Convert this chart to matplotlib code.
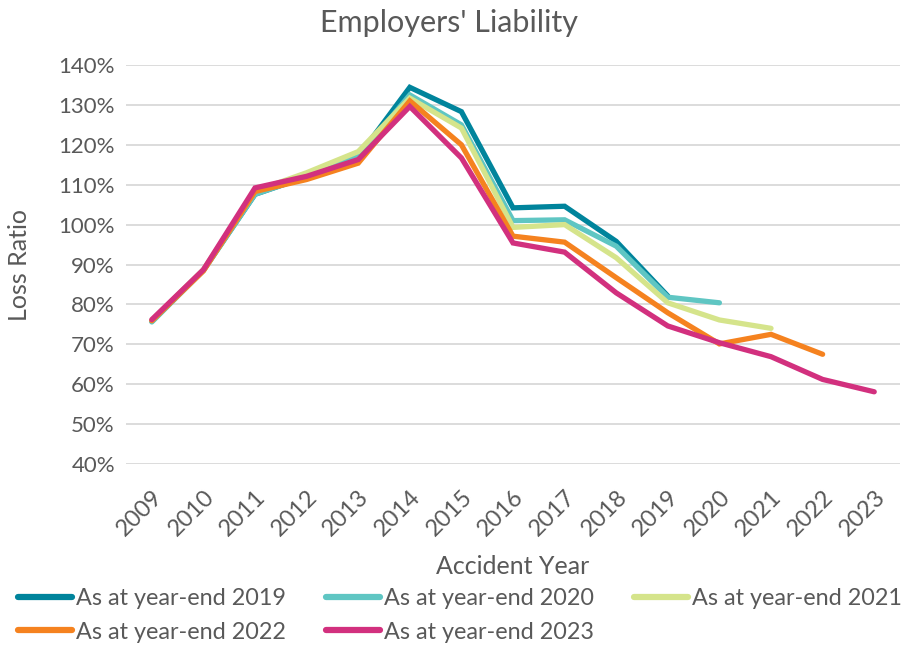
import numpy as np
import matplotlib.pyplot as plt

plt.rcParams["font.family"] = ["Lato", "DejaVu Sans"]

years = [str(y) for y in range(2009, 2024)]

ye2019 = [75.8, 88.6, 107.6, 112.0, 117.0, 134.4, 128.3, 104.2, 104.6, 95.8, 82.1]
ye2020 = [75.6, 88.5, 107.6, 112.0, 117.0, 132.5, 125.0, 101.0, 101.2, 94.6, 81.8, 80.4]
ye2021 = [76.0, 88.7, 108.4, 113.0, 118.3, 131.7, 124.2, 99.3, 100.0, 91.7, 80.4, 76.1, 74.0]
ye2022 = [75.9, 88.4, 108.3, 111.3, 115.4, 131.0, 120.0, 97.1, 95.6, 86.7, 77.9, 70.1, 72.5, 67.5]
ye2023 = [76.2, 88.7, 109.2, 112.1, 116.3, 129.6, 116.7, 95.4, 93.1, 82.9, 74.6, 70.4, 66.9, 61.2, 58.1]

series = [
    ("As at year-end 2019", ye2019, "#00849C"),
    ("As at year-end 2020", ye2020, "#5FC6C3"),
    ("As at year-end 2021", ye2021, "#D5E48B"),
    ("As at year-end 2022", ye2022, "#F5821F"),
    ("As at year-end 2023", ye2023, "#D2307E"),
]

TXT = "#595959"

fig = plt.figure(figsize=(9.04, 6.46), dpi=100)
ax = fig.add_axes([0.1394, 0.2817, 0.8562, 0.6177])

lines = {}
for label, vals, color in series:
    ln, = ax.plot(range(len(vals)), vals, color=color, linewidth=3.8,
                  solid_capstyle="round", solid_joinstyle="miter", label=label)
    lines[label] = ln

ax.set_xlim(-0.5, len(years) - 0.5)
ax.set_ylim(40, 140)
ax.set_yticks(range(40, 141, 10))
ax.set_yticklabels([f"{v}%" for v in range(40, 141, 10)], fontsize=16, color=TXT)
ax.set_xticks(range(len(years)))
ax.set_xticklabels(years, rotation=45, ha="right", rotation_mode="anchor",
                   fontsize=17, color=TXT)
ax.tick_params(axis="y", length=0, pad=8)
ax.tick_params(axis="x", length=0, pad=16)
ax.grid(axis="y", color="#D9D9D9", linewidth=1.3)
ax.set_axisbelow(True)
for s in ax.spines.values():
    s.set_visible(False)

ax.set_ylabel("Loss Ratio", fontsize=18, color=TXT, labelpad=20)
ax.set_xlabel("Accident Year", fontsize=18, color=TXT, labelpad=11)
fig.text(0.497, 0.965, "Employers' Liability", fontsize=22, color=TXT,
         ha="center", va="center")

# legend laid out row by row: matplotlib fills columns first
order = ["As at year-end 2019", "As at year-end 2022", "As at year-end 2020",
         "As at year-end 2023", "As at year-end 2021"]
leg = fig.legend([lines[k] for k in order], order, ncol=3, loc="lower left",
                 bbox_to_anchor=(0.002, -0.02), frameon=False, fontsize=16.8,
                 handlelength=2.3, handletextpad=0.2, columnspacing=1.7,
                 labelspacing=0.53, borderaxespad=0.3)
for t in leg.get_texts():
    t.set_color(TXT)
for h in leg.legend_handles:
    h.set_linewidth(4.5)

fig.savefig("out.png", dpi=100)
